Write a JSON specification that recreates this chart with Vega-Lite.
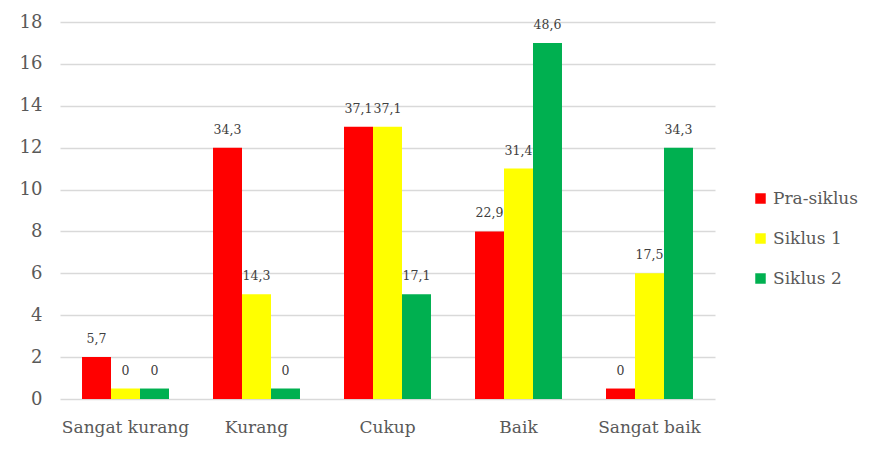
{
  "$schema": "https://vega.github.io/schema/vega-lite/v6.json",
  "width": 655,
  "height": 377,
  "autosize": {"type": "none"},
  "padding": {"left": 60, "top": 22, "right": 154, "bottom": 58},
  "background": "white",
  "config": {
    "view": {"stroke": null},
    "font": "DejaVu Serif"
  },
  "data": {
    "values": [
      {"kategori": "Sangat kurang", "siklus": "Pra-siklus", "jumlah": 2, "label": "5,7"},
      {"kategori": "Sangat kurang", "siklus": "Siklus 1", "jumlah": 0.5, "label": "0"},
      {"kategori": "Sangat kurang", "siklus": "Siklus 2", "jumlah": 0.5, "label": "0"},
      {"kategori": "Kurang", "siklus": "Pra-siklus", "jumlah": 12, "label": "34,3"},
      {"kategori": "Kurang", "siklus": "Siklus 1", "jumlah": 5, "label": "14,3"},
      {"kategori": "Kurang", "siklus": "Siklus 2", "jumlah": 0.5, "label": "0"},
      {"kategori": "Cukup", "siklus": "Pra-siklus", "jumlah": 13, "label": "37,1"},
      {"kategori": "Cukup", "siklus": "Siklus 1", "jumlah": 13, "label": "37,1"},
      {"kategori": "Cukup", "siklus": "Siklus 2", "jumlah": 5, "label": "17,1"},
      {"kategori": "Baik", "siklus": "Pra-siklus", "jumlah": 8, "label": "22,9"},
      {"kategori": "Baik", "siklus": "Siklus 1", "jumlah": 11, "label": "31,4"},
      {"kategori": "Baik", "siklus": "Siklus 2", "jumlah": 17, "label": "48,6"},
      {"kategori": "Sangat baik", "siklus": "Pra-siklus", "jumlah": 0.5, "label": "0"},
      {"kategori": "Sangat baik", "siklus": "Siklus 1", "jumlah": 6, "label": "17,5"},
      {"kategori": "Sangat baik", "siklus": "Siklus 2", "jumlah": 12, "label": "34,3"}
    ]
  },
  "encoding": {
    "x": {
      "field": "kategori",
      "type": "nominal",
      "sort": ["Sangat kurang", "Kurang", "Cukup", "Baik", "Sangat baik"],
      "scale": {"paddingInner": 0.336, "paddingOuter": 0.168},
      "axis": {
        "title": null,
        "labelAngle": 0,
        "domain": false,
        "ticks": false,
        "labelFont": "DejaVu Serif",
        "labelFontSize": 17,
        "labelColor": "#595959",
        "labelBaseline": "alphabetic",
        "labelPadding": 33
      }
    },
    "xOffset": {
      "field": "siklus",
      "type": "nominal",
      "sort": ["Pra-siklus", "Siklus 1", "Siklus 2"],
      "scale": {"paddingInner": 0, "paddingOuter": 0}
    },
    "y": {
      "field": "jumlah",
      "type": "quantitative",
      "scale": {"domain": [0, 18], "nice": false},
      "axis": {
        "title": null,
        "values": [0, 2, 4, 6, 8, 10, 12, 14, 16, 18],
        "domain": false,
        "ticks": false,
        "labelFont": "DejaVu Serif",
        "labelFontSize": 18,
        "labelColor": "#595959",
        "labelPadding": 18,
        "gridColor": "#d9d9d9",
        "gridWidth": 1.5
      }
    }
  },
  "layer": [
    {
      "mark": {"type": "bar"},
      "encoding": {
        "color": {
          "field": "siklus",
          "type": "nominal",
          "sort": ["Pra-siklus", "Siklus 1", "Siklus 2"],
          "scale": {
            "domain": ["Pra-siklus", "Siklus 1", "Siklus 2"],
            "range": ["#FF0000", "#FFFF00", "#00B050"]
          },
          "legend": {
            "title": null,
            "orient": "none",
            "legendX": 692,
            "legendY": 168,
            "padding": 0,
            "symbolType": "square",
            "symbolSize": 110,
            "symbolStrokeWidth": 0,
            "labelFont": "DejaVu Serif",
            "labelFontSize": 17,
            "labelColor": "#595959",
            "labelOffset": 4,
            "rowPadding": 22
          }
        }
      }
    },
    {
      "mark": {
        "type": "text",
        "baseline": "alphabetic",
        "dy": -14,
        "font": "DejaVu Serif",
        "fontSize": 12.5,
        "color": "#404040"
      },
      "encoding": {
        "text": {"field": "label"}
      }
    }
  ]
}
